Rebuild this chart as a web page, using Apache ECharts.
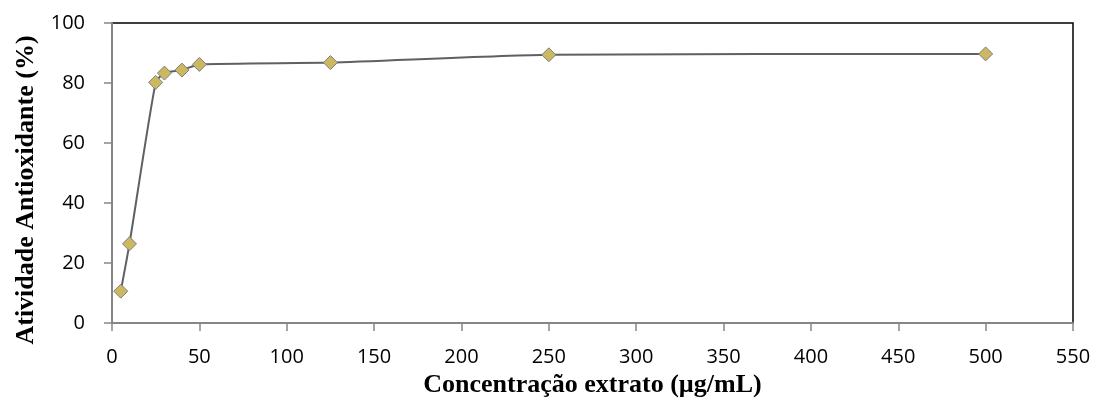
<!DOCTYPE html>
<html>
<head>
<meta charset="utf-8">
<script src="https://cdn.jsdelivr.net/npm/echarts@6/dist/echarts.min.js"></script>
<style>html,body{margin:0;padding:0;background:#fff;}#c{width:1100px;height:412px;}</style>
</head>
<body>
<div id="c"></div>
<script>
const concentrations = [5, 10, 25, 30, 40, 50, 125, 250, 500];
const activity = [10.6, 26.4, 80.2, 83.3, 84.3, 86.2, 86.8, 89.4, 89.7];
const xTitle = 'Concentração extrato (µg/mL)';
const yTitle = 'Atividade Antioxidante (%)';

const chart = echarts.init(document.getElementById('c'));
chart.setOption({
  animation: false,
  backgroundColor: '#ffffff',
  grid: { left: 112, right: 27, top: 23, bottom: 89, show: true, borderColor: '#000', borderWidth: 1.5, backgroundColor: 'transparent' },
  xAxis: {
    type: 'value', min: 0, max: 550, interval: 50,
    name: xTitle, nameLocation: 'middle', nameGap: 47,
    nameTextStyle: { fontFamily: 'Liberation Serif', fontWeight: 'bold', fontSize: 26, color: '#000' },
    axisLine: { show: true, lineStyle: { color: '#868686', width: 2 } },
    axisTick: { show: true, inside: false, length: 8, lineStyle: { color: '#868686', width: 1.5 } },
    axisLabel: { fontFamily: 'Open Sans', fontSize: 20, color: '#000', margin: 24 },
    splitLine: { show: false }
  },
  yAxis: {
    type: 'value', min: 0, max: 100, interval: 20,
    name: yTitle, nameLocation: 'middle', nameGap: 73, nameRotate: 90,
    nameTextStyle: { fontFamily: 'Liberation Serif', fontWeight: 'bold', fontSize: 26, color: '#000', padding: [0, 34, 0, 0] },
    axisLine: { show: true, lineStyle: { color: '#868686', width: 2 } },
    axisTick: { show: true, inside: false, length: 8, lineStyle: { color: '#868686', width: 1.5 } },
    axisLabel: { fontFamily: 'Open Sans', fontSize: 20, color: '#000', margin: 27 },
    splitLine: { show: false }
  },
  series: [{
    type: 'line',
    data: concentrations.map((c, i) => [c, activity[i]]),
    smooth: 0.2,
    symbol: 'diamond',
    symbolSize: 14,
    lineStyle: { color: '#5f5f66', width: 2 },
    itemStyle: { color: '#CDB862', borderColor: '#7f7f7f', borderWidth: 1 }
  }]
});
</script>
</body>
</html>
